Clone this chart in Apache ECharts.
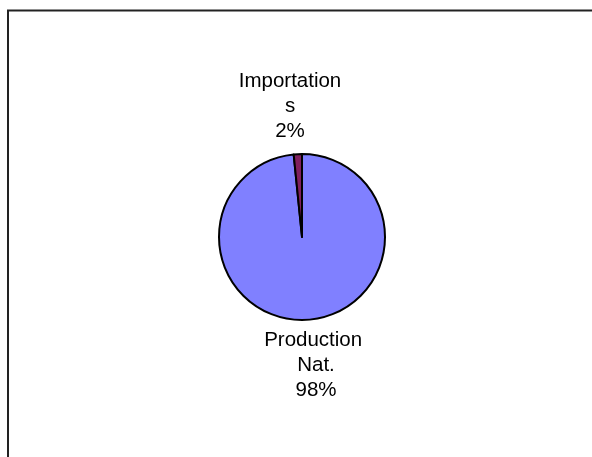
<!DOCTYPE html>
<html>
<head>
<meta charset="utf-8">
<script src="https://cdn.jsdelivr.net/npm/echarts@6/dist/echarts.min.js"></script>
<style>html,body{margin:0;padding:0;background:#fff;}#c{width:592px;height:457px;}</style>
</head>
<body>
<div id="c"></div>
<script>
const categories = ['Production Nat.', 'Importations'];
const values = [98.4, 1.6];
const colors = ['#8080FF', '#80205F'];

const CX = 302, CY = 237, R = 83;
const labelOffsets = [[14, 128], [-12, -131]];

const chart = echarts.init(document.getElementById('c'), null, {renderer: 'canvas'});
chart.setOption({
  backgroundColor: '#fff',
  animation: false,
  graphic: [{
    type: 'rect',
    shape: {x: 8, y: 10.5, width: 800, height: 800},
    style: {fill: 'none', stroke: '#222', lineWidth: 2},
    silent: true
  }],
  series: [{
    type: 'pie',
    center: [CX, CY],
    radius: [0, R],
    startAngle: 90,
    clockwise: true,
    percentPrecision: 0,
    avoidLabelOverlap: false,
    itemStyle: {borderColor: '#000', borderWidth: 2},
    label: {
      show: true,
      position: 'outside',
      formatter: '{b}\n{d}%',
      fontFamily: 'Liberation Sans, Arial, sans-serif',
      fontSize: 20.5,
      lineHeight: 25,
      color: '#000',
      width: 108,
      overflow: 'breakAll',
      align: 'center'
    },
    labelLine: {show: false},
    labelLayout: function (p) {
      const o = labelOffsets[p.dataIndex];
      return {x: CX + o[0], y: CY + o[1], align: 'center', verticalAlign: 'middle'};
    },
    emphasis: {disabled: true},
    data: categories.map((c, i) => ({
      name: c, value: values[i], itemStyle: {color: colors[i]},
      label: i === 0 ? {overflow: 'break'} : {}
    }))
  }]
});
</script>
</body>
</html>
